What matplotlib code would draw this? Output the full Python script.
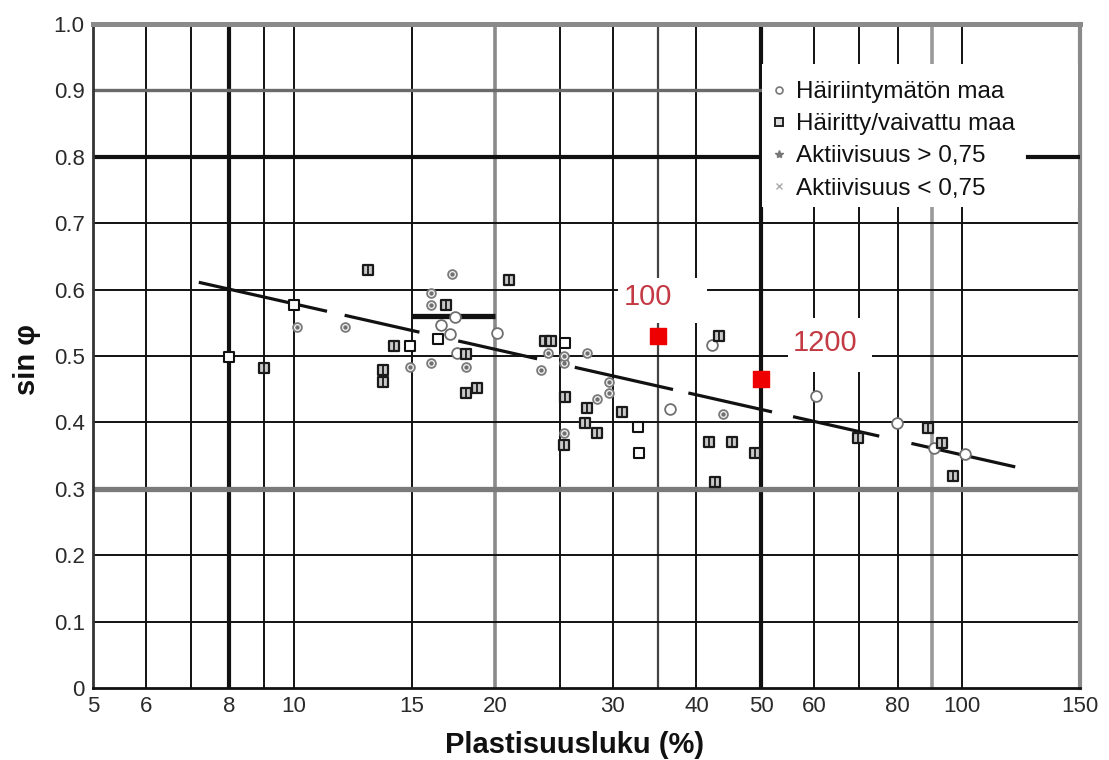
import numpy as np
import matplotlib
matplotlib.use("Agg")
import matplotlib.pyplot as plt
from matplotlib.lines import Line2D
from matplotlib.patches import Rectangle
from matplotlib import font_manager

# ---- data -------------------------------------------------------------
# undisturbed soil (open circles)
undist_pi = [17.4, 16.6, 17.1, 20.1, 17.5, 36.5, 42.2, 60.4, 79.9, 90.8, 101]
undist_sin = [0.559, 0.547, 0.533, 0.535, 0.505, 0.420, 0.517, 0.440, 0.399, 0.362, 0.352]

# disturbed / remoulded soil (open squares)
dist_pi = [10.0, 8.0, 14.9, 16.4, 25.4, 32.7, 32.8]
dist_sin = [0.577, 0.498, 0.515, 0.526, 0.520, 0.393, 0.354]

# disturbed soil with activity marks (marked squares)
dist_act_pi = [12.9, 9.0, 21.0, 16.9, 14.1, 13.6, 13.6, 18.1, 18.1, 18.8, 23.7, 24.2,
               25.4, 27.4, 31.0, 27.2, 28.4, 25.3, 43.3, 41.8, 45.2, 49.0, 42.7,
               69.9, 88.9, 93.3, 96.9]
dist_act_sin = [0.630, 0.482, 0.614, 0.577, 0.515, 0.479, 0.461, 0.503, 0.444, 0.452,
                0.523, 0.523, 0.438, 0.422, 0.416, 0.399, 0.384, 0.366, 0.530, 0.370,
                0.370, 0.354, 0.310, 0.376, 0.392, 0.369, 0.319]

# undisturbed soil with activity marks (circled dots)
undist_act_pi = [10.1, 11.9, 17.2, 16.0, 16.0, 16.0, 14.9, 18.1, 23.4, 24.0, 25.3,
                 25.3, 27.4, 29.6, 29.6, 28.4, 25.3, 43.9]
undist_act_sin = [0.544, 0.544, 0.623, 0.595, 0.577, 0.489, 0.483, 0.483, 0.479, 0.505,
                  0.490, 0.500, 0.505, 0.461, 0.444, 0.435, 0.384, 0.413]

# own test points
red_pi = [35, 50]
red_sin = [0.53, 0.465]
red_labels = ["100", "1200"]
red_label_pi = [33.9, 62.3]
red_label_sin = [0.589, 0.520]

# fitted trend line (end points) and its dash pieces
trend_pi = [7.2, 120]
trend_sin = [0.611, 0.333]
trend_pieces = [(7.2, 11.2), (11.9, 15.4), (17.6, 23.1), (26.3, 36.9),
                (38.9, 51.9), (55.8, 75.1), (83.9, 120)]
band_pi = [15, 20]
band_sin = [0.56, 0.56]

x_ticks = [5, 6, 8, 10, 15, 20, 30, 40, 50, 60, 80, 100, 150]
y_ticks = [0, 0.1, 0.2, 0.3, 0.4, 0.5, 0.6, 0.7, 0.8, 0.9, 1.0]
y_tick_labels = ["0", "0.1", "0.2", "0.3", "0.4", "0.5", "0.6", "0.7", "0.8", "0.9", "1.0"]
v_grid = [6, 7, 8, 9, 10, 15, 20, 25, 30, 35, 40, 50, 60, 70, 80, 90, 100]

legend_labels = ["Häiriintymätön maa", "Häiritty/vaivattu maa",
                 "Aktiivisuus > 0,75", "Aktiivisuus < 0,75"]

# ---- figure -----------------------------------------------------------
W, H = 1109, 760
fig = plt.figure(figsize=(W / 100, H / 100), dpi=100)
ax = fig.add_axes([93 / W, 1 - 688 / H, (1080 - 93) / W, (688 - 24) / H])
ax.set_xscale("log")
ax.set_xlim(5, 150)
ax.set_ylim(0, 1.0)

names = {f.name for f in font_manager.fontManager.ttflist}
narrow = "Liberation Sans Narrow" if "Liberation Sans Narrow" in names else "Liberation Sans"
tick_size = 17 if narrow == "Liberation Sans Narrow" else 16

# grid lines
v_style = {8: (3.0, "#111"), 50: (3.0, "#111"), 20: (2.6, "#8a8a8a"), 90: (2.6, "#9a9a9a"),
           35: (1.6, "#444")}
for v in v_grid:
    lw, c = v_style.get(v, (1.4, "#111"))
    ax.axvline(v, color=c, lw=lw, zorder=1)
h_style = {0.8: (3.0, "#111"), 0.3: (3.8, "#7a7a7a"), 0.9: (2.4, "#6a6a6a")}
for h in y_ticks[1:-1]:
    lw, c = h_style.get(h, (1.4, "#111"))
    ax.axhline(h, color=c, lw=lw, zorder=1)

for side in ["left", "bottom", "top", "right"]:
    ax.spines[side].set_zorder(1)
ax.spines["top"].set_color("#8a8a8a")
ax.spines["top"].set_linewidth(3.6)
ax.spines["right"].set_color("#8a8a8a")
ax.spines["right"].set_linewidth(3.0)
ax.spines["left"].set_color("#333")
ax.spines["left"].set_linewidth(2.0)
ax.spines["bottom"].set_color("#111")
ax.spines["bottom"].set_linewidth(2.0)


def px_box(x0, y0, x1, y1):
    return Rectangle((x0 / W, 1 - y1 / H), (x1 - x0) / W, (y1 - y0) / H,
                     transform=fig.transFigure, facecolor="white", edgecolor="none",
                     zorder=2, clip_on=False)


# white backgrounds of labels and legend
ax.add_patch(px_box(618, 278, 707, 323))
ax.add_patch(px_box(788, 318, 872, 372))
ax.add_patch(px_box(762, 64, 1078, 207))
ax.axhline(0.8, xmin=(1028 - 93) / (1080 - 93), xmax=1, color="#111", lw=3.0, zorder=2.5)

# ticks
ax.set_xticks(x_ticks)
ax.set_xticklabels([str(t) for t in x_ticks])
ax.xaxis.set_minor_locator(matplotlib.ticker.NullLocator())
ax.set_yticks(y_ticks)
ax.set_yticklabels(y_tick_labels)
ax.tick_params(length=0, pad=6, labelcolor="#2a2a2a", labelsize=tick_size)
for lab in ax.get_xticklabels() + ax.get_yticklabels():
    lab.set_family(narrow)

# trend line
lx = np.log10(trend_pi)
for a, b in trend_pieces:
    xs = np.array([a, b])
    ys = np.interp(np.log10(xs), lx, trend_sin)
    ax.plot(xs, ys, color="#111", lw=2.3, solid_capstyle="butt", zorder=4)
ax.plot(band_pi, band_sin, color="#111", lw=3.8, solid_capstyle="butt", zorder=4)

# data points
ax.scatter(undist_pi, undist_sin, marker="o", s=60, facecolors="white",
           edgecolors="#707070", linewidths=1.3, zorder=5)
ax.scatter(dist_pi, dist_sin, marker="s", s=60, facecolors="white",
           edgecolors="#111", linewidths=1.5, zorder=5)
ax.scatter(dist_act_pi, dist_act_sin, marker="s", s=48, facecolors="#c8c8c8",
           edgecolors="#1a1a1a", linewidths=1.6, zorder=5)
ax.scatter(dist_act_pi, dist_act_sin, marker="|", s=30, color="#1a1a1a",
           linewidths=1.3, zorder=6)
ax.scatter(undist_act_pi, undist_act_sin, marker="o", s=40, facecolors="#f2f2f2",
           edgecolors="#7a7a7a", linewidths=1.3, zorder=5)
ax.scatter(undist_act_pi, undist_act_sin, marker=".", s=18, color="#707070", zorder=6)

ax.scatter(red_pi, red_sin, marker="s", s=120, color="#ee0000", zorder=7)
for px_, py_, t in zip(red_label_pi, red_label_sin, red_labels):
    ax.text(px_, py_, t, color="#c43a44", fontsize=21, family="Liberation Sans",
            ha="center", va="center", zorder=7)

# legend
handles = [
    Line2D([], [], ls="", marker="o", ms=5, mfc="white", mec="#777", mew=1.2),
    Line2D([], [], ls="", marker="s", ms=6, mfc="#ddd", mec="#222", mew=1.4),
    Line2D([], [], ls="", marker="*", ms=6, color="#777"),
    Line2D([], [], ls="", marker="x", ms=4, color="#aaa", mew=1.0),
]
ax.legend(handles, legend_labels, loc="upper left",
          bbox_to_anchor=(773 / W, 1 - 81 / H), bbox_transform=fig.transFigure,
          frameon=False, prop={"family": "Liberation Sans", "size": 17.5},
          handlelength=0.5, handletextpad=0.45, labelspacing=0.42, borderpad=0,
          borderaxespad=0, labelcolor="#111")

# axis titles
fig.text(575 / W, 1 - 745 / H, "Plastisuusluku (%)", ha="center", va="center",
         fontsize=21, fontweight="bold", family="Liberation Sans", color="#111")
fig.text(27 / W, 1 - 360 / H, "sin φ", ha="center", va="center", rotation=90,
         fontsize=21, fontweight="bold", family="Liberation Sans", color="#111")

fig.savefig("out.png", dpi=100)
